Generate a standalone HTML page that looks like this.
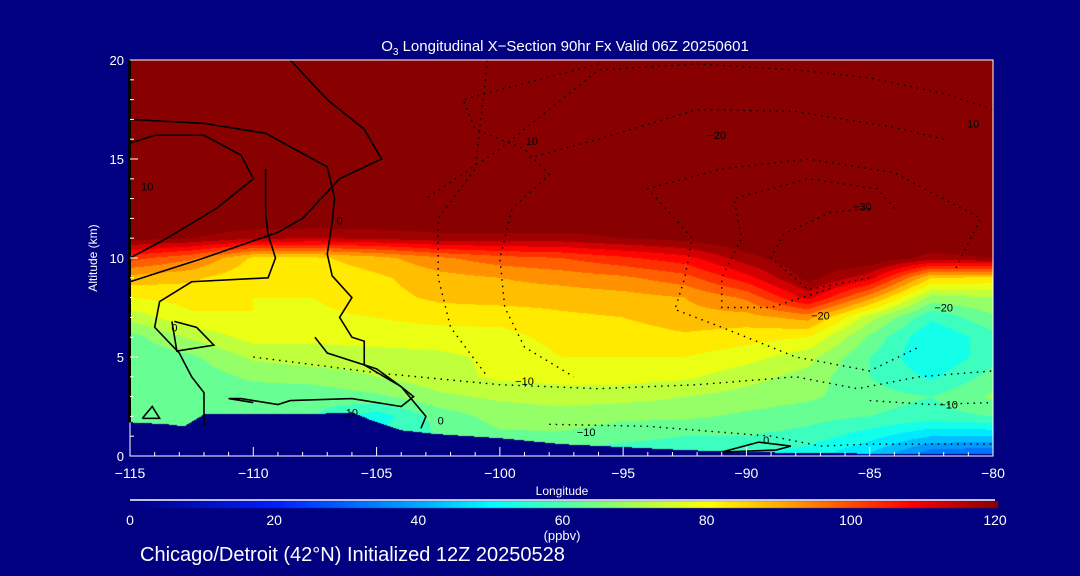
<!DOCTYPE html>
<html><head><meta charset="utf-8"><style>
html,body{margin:0;padding:0;background:#000080;width:1080px;height:576px;overflow:hidden;font-family:"Liberation Sans",sans-serif;color:#fff}
#root{position:relative;width:1080px;height:576px}
canvas,svg{position:absolute;left:0;top:0}
</style></head><body>
<div id="root">
<canvas id="cv" width="1080" height="576"></canvas>
<svg id="sv" width="1080" height="576"></svg>
</div>
<script>
const lons=[-115,-112.5,-110,-107.5,-105,-102.5,-100,-97.5,-95,-92.5,-90,-87.5,-85,-82.5,-80];
const alts=[0,1,2,3,4,5,6,7,8,9,10,11,12];
// ozone (ppbv) per altitude row (0..12 km), per longitude column; above 12 km saturated
const row0=[60,60,60,60,52,54,58,58,56,54,54,52,44,30,28];
const row1=[61,61,61,61,56,60,64,64,62,60,60,58,52,45,45];
const row2=[61,61,61,60,52,62,67,68,66,66,64,62,60,58,60];
const row3=[61,61,62,62,64,69,71,72,72,70,68,66,62,60,66];
const row4=[61,62,66,67,70,73,76,77,77,76,72,68,60,54,62];
const row5=[61,64,71,73,73,74,76,80,80,80,77,72,60,50,58];
const row6=[63,71,77,76,77,77,78,82,82,84,82,80,64,50,58];
const row7=[72,79,80,79,80,82,82,84,85,88,88,92,72,56,64];
const row8=[80,82,80,80,83,86,87,87,88,90,96,112,92,68,70];
const row9=[88,86,81,81,84,88,90,92,94,98,108,122,112,85,84];
const row10=[102,96,84,84,88,94,98,100,104,108,118,125,125,118,120];
const row11=[122,120,116,115,116,118,118,118,120,122,125,125,125,125,125];
const row12=[125,125,125,125,125,125,125,125,125,125,125,125,125,125,125];
const field=[row0,row1,row2,row3,row4,row5,row6,row7,row8,row9,row10,row11,row12];
const terrainLon=[-115,-113.5,-112.8,-112,-110.5,-108,-106,-105.2,-104,-102.5,-100,-97.5,-95,-92.5,-90,-87.5,-85,-80];
const terrainAlt=[1.7,1.6,1.5,2.1,2.1,2.1,2.2,1.8,1.3,1.1,0.9,0.6,0.45,0.3,0.2,0.15,0.12,0.1];
const cbTicks=[0,20,40,60,80,100,120];
const xTicks=[-115,-110,-105,-100,-95,-90,-85,-80];
const yTicks=[0,5,10,15,20];

const X0=130,X1=993,Y0=456,Y1=60;
const xs=l=>X0+(l+115)/35*(X1-X0);
const ys=a=>Y0-a/20*(Y0-Y1);
const stops=[[0,0,0,130],[20,0,30,255],[40,0,170,255],[50,0,255,255],[60,80,255,170],[70,170,255,80],[80,255,255,0],[90,255,170,0],[100,255,70,0],[108,255,0,0],[120,136,0,0]];
function cmap(v){v=Math.max(0,Math.min(120,v));for(let i=1;i<stops.length;i++){if(v<=stops[i][0]){const a=stops[i-1],b=stops[i],t=(v-a[0])/(b[0]-a[0]);return [a[1]+t*(b[1]-a[1]),a[2]+t*(b[2]-a[2]),a[3]+t*(b[3]-a[3])].map(Math.round);}}return [136,0,0];}
function interp1(xa,ya,x){if(x<=xa[0])return ya[0];for(let i=1;i<xa.length;i++){if(x<=xa[i]){const t=(x-xa[i-1])/(xa[i]-xa[i-1]);return ya[i-1]+t*(ya[i]-ya[i-1]);}}return ya[ya.length-1];}
function val(lon,alt){
  if(alt>=12)return 125;
  let ci=Math.min(lons.length-2,Math.max(0,Math.floor((lon+115)/2.5)));
  let tx=(lon-lons[ci])/2.5;tx=Math.max(0,Math.min(1,tx));
  let ri=Math.min(alts.length-2,Math.floor(alt));let ty=alt-ri;
  const f=field;
  const a=f[ri][ci]*(1-tx)+f[ri][ci+1]*tx, b=f[ri+1][ci]*(1-tx)+f[ri+1][ci+1]*tx;
  return a*(1-ty)+b*ty;
}
const cv=document.getElementById('cv'),ctx=cv.getContext('2d');
const img=ctx.createImageData(X1-X0,Y0-Y1);
for(let py=0;py<Y0-Y1;py++){const alt=(Y0-(Y1+py+0.5))/(Y0-Y1)*20;
 for(let px=0;px<X1-X0;px++){const lon=-115+(px+0.5)/(X1-X0)*35;
  let c;
  if(alt<interp1(terrainLon,terrainAlt,lon))c=[0,0,128];
  else{let v=val(lon,alt);v=Math.min(120,Math.floor(v/5)*5+2.5);c=cmap(v);}
  const k=(py*(X1-X0)+px)*4;img.data[k]=c[0];img.data[k+1]=c[1];img.data[k+2]=c[2];img.data[k+3]=255;}}
ctx.putImageData(img,X0,Y1);
// colorbar
for(let px=0;px<868;px++){const c=cmap(px/868*120);ctx.fillStyle=`rgb(${c})`;ctx.fillRect(130+px,501,1,7);}

const NS='http://www.w3.org/2000/svg',sv=document.getElementById('sv');
function el(t,a,txt){const e=document.createElementNS(NS,t);for(const k in a)e.setAttribute(k,a[k]);if(txt!==undefined)e.textContent=txt;sv.appendChild(e);return e;}
let e;
const solidLines=[
 [[-115,8.8],[-112,10],[-109,11.3],[-108,12],[-106.5,14],[-104.8,15],[-105.5,16.5],[-107,18],[-108.5,20]],
 [[-115,17],[-112,16.8],[-109.5,16.3],[-107,14.6],[-106.7,13],[-106.8,11.8],[-107,10.2],[-106.8,9.1],[-106,8],[-106.5,7],[-106,6],[-105.5,5.8],[-105.5,4.6],[-104,3.5],[-103,2.0],[-103.2,1.4]],
 [[-115,15.8],[-114,16.2],[-112,16.2],[-110.5,15.2],[-110,14],[-111.5,12.5],[-113.5,11],[-115,10]],
 [[-109.5,14.5],[-109.5,12.2],[-109.4,11.2],[-109.1,10],[-109.4,9],[-112.5,8.8],[-113.8,7.8],[-114,6.5],[-113,5.2],[-112.5,4],[-112,3.2],[-112,1.5]],
 [[-107.5,6],[-107,5.2],[-105,4.4],[-104,3.5],[-103.5,3],[-104,2.5],[-106,2.9],[-108.5,2.8],[-109,2.6],[-110.5,2.9],[-111,2.9],[-110,2.7]],
 [[-113.2,6.8],[-112.3,6.5],[-111.6,5.6],[-113.1,5.3],[-113.3,6.8]],
 [[-114.5,1.9],[-114.1,2.5],[-113.8,1.9],[-114.5,1.9]],
 [[-91,0.2],[-89.5,0.7],[-88.2,0.5],[-88.8,0.3],[-91,0.2]]
];
const dotLines=[
 [[-100.5,20],[-101,14.5],[-102.5,12],[-102.5,9],[-102,6.5],[-100.5,4]],
 [[-96,19.8],[-101.5,18],[-101,16.5],[-99,15.5],[-98,14.2],[-99.5,12.5],[-100,10],[-99.8,7.5],[-99,5.5],[-97,4]],
 [[-80,17.5],[-82,18.3],[-85,19.1],[-88,19.5],[-92,19.8],[-96,19.5],[-100,15.5],[-103,13]],
 [[-82,16],[-84,16.6],[-88,17.4],[-92,17.5],[-96,16],[-99,15]],
 [[-81.5,9.5],[-80.5,12],[-84,14.3],[-87.5,15],[-91,14.5],[-94,13.5],[-92.2,11],[-92.5,9],[-92.9,7.4],[-91,6.5],[-88,5],[-85,4.3],[-83,5.5]],
 [[-84,12.5],[-84.7,13.5],[-87.5,14],[-90.5,13],[-90.2,11],[-91,9],[-91,7.5],[-89,7.5],[-86.5,8.5]],
 [[-85,12.5],[-86.6,12.3],[-88.5,11.2],[-89,10],[-87.5,8.4],[-85,9]],
 [[-110,5],[-105,4.2],[-100,3.6],[-96,3.4],[-92,3.6],[-88,4],[-85.5,3.4],[-83,4],[-80,4.3]],
 [[-98,1.6],[-94,1.5],[-91,1.2],[-89,1],[-87,0.5],[-85,0.6],[-82,0.6],[-80,0.6]],
 [[-85,2.8],[-82.5,2.6],[-80,2.7]]
];
solidLines.forEach(l=>{e=el('polyline',{points:l.map(p=>xs(p[0])+','+ys(p[1])).join(' '),fill:'none',stroke:'#000','stroke-width':1.6});
});
dotLines.forEach(l=>{e=el('polyline',{points:l.map(p=>xs(p[0])+','+ys(p[1])).join(' '),fill:'none',stroke:'#000','stroke-width':1.4,'stroke-dasharray':'1.5 5'});
});
const cLabels=[[-114.3,13.6,'10'],[-106.5,11.9,'0'],[-113.2,6.5,'0'],[-106,2.2,'10'],[-102.4,1.8,'0'],[-98.7,15.9,'10'],[-91.2,16.2,'-20'],[-85.3,12.6,'-30'],[-87,7.1,'-20'],[-80.8,16.8,'10'],[-82,7.5,'-20'],[-99,3.8,'-10'],[-81.8,2.6,'-10'],[-96.5,1.2,'-10'],[-89.2,0.8,'0']];
cLabels.forEach(c=>{e=el('text',{x:xs(c[0]),y:ys(c[1])+4,'font-size':11,fill:'#000','text-anchor':'middle'},c[2].replace('-','\u2212'));
});
e=el('rect',{x:X0,y:Y1,width:X1-X0,height:Y0-Y1,fill:'none',stroke:'#fff','stroke-width':1});

e=el('line',{x1:129.5,y1:Y1,x2:129.5,y2:ys(1.7),stroke:'#000','stroke-width':3});

for(let l=-115;l<=-80;l++){const maj=xTicks.includes(l);
 e=el('line',{x1:xs(l),x2:xs(l),y1:Y0,y2:Y0-(maj?9:4),stroke:'#fff'});}
xTicks.forEach(t=>{e=el('text',{x:xs(t),y:478,'font-size':14,fill:'#fff','text-anchor':'middle'},String(t).replace('-','\u2212'));
});
for(let a=0;a<=20;a++){const maj=yTicks.includes(a);
 e=el('line',{x1:X0,x2:X0+(maj?8:4),y1:ys(a),y2:ys(a),stroke:'#fff'});}
yTicks.forEach(t=>{e=el('text',{x:124,y:ys(t)+5,'font-size':13,fill:'#fff','text-anchor':'end'},String(t));
});
e=el('text',{x:562,y:495,'font-size':12,fill:'#fff','text-anchor':'middle'},'Longitude');
e=el('text',{x:97,y:258,'font-size':12,fill:'#fff','text-anchor':'middle',transform:'rotate(-90 97 258)'},'Altitude (km)');
e=el('text',{x:565,y:51,'font-size':15,fill:'#fff','text-anchor':'middle','xml:space':'preserve'},'');
e.innerHTML='O<tspan font-size="10" dy="4">3</tspan><tspan dy="-4"> Longitudinal X\u2212Section 90hr  Fx Valid 06Z 20250601</tspan>';
e=el('line',{x1:130,x2:995,y1:500,y2:500,stroke:'#fff','stroke-width':1.5});
cbTicks.forEach(t=>{e=el('text',{x:130+t/120*865,y:525,'font-size':14,fill:'#fff','text-anchor':'middle'},String(t));
});
e=el('text',{x:562,y:540,'font-size':13,fill:'#fff','text-anchor':'middle'},'(ppbv)');
e=el('text',{x:140,y:561,'font-size':20,fill:'#fff'},'Chicago/Detroit (42°N) Initialized 12Z 20250528');
</script>
</body></html>
